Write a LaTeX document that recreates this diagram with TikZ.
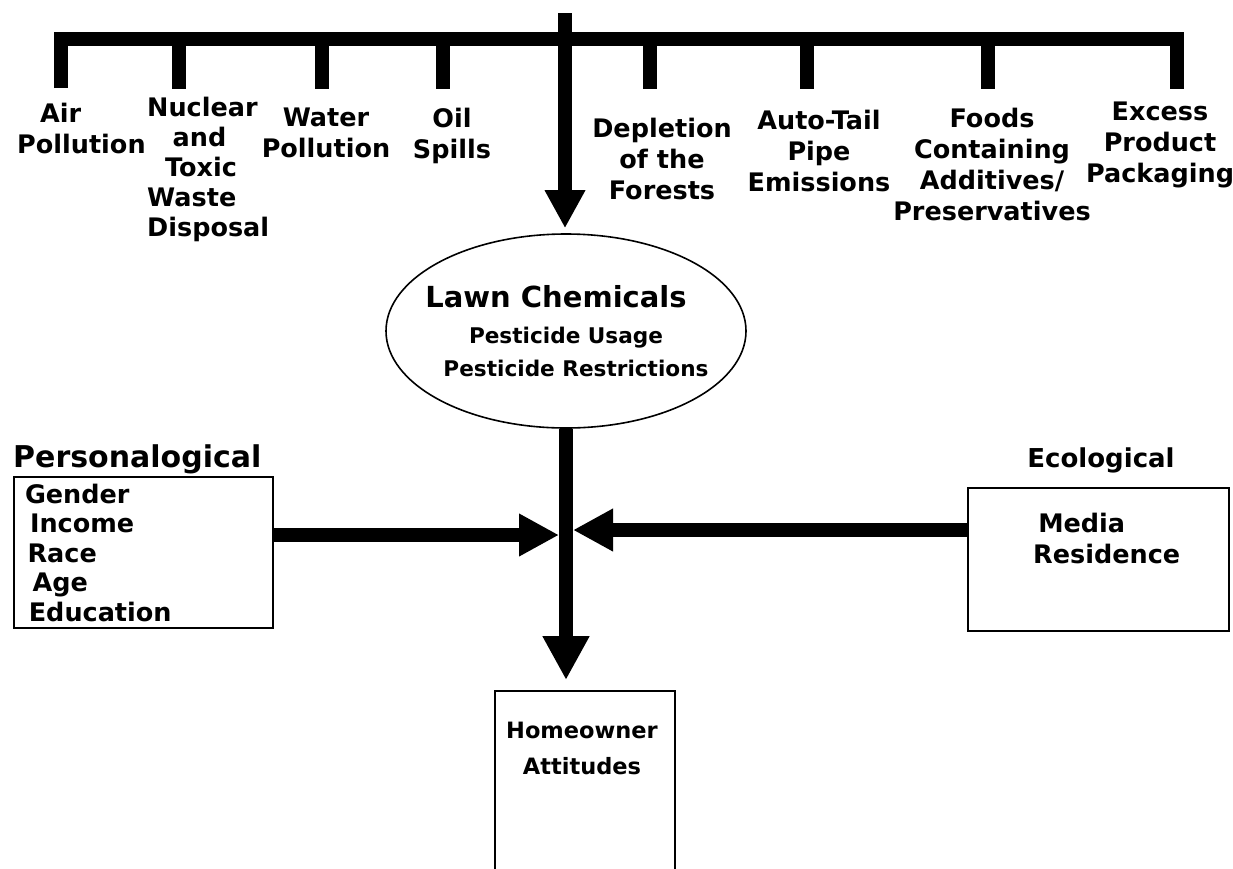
\documentclass[tikz,border=0pt]{standalone}
\usepackage{fontspec}
\setmainfont{DejaVu Sans}
\usetikzlibrary{arrows.meta}
\usetikzlibrary{shapes.geometric}
\tikzset{bar/.style={line width=14pt}}
\tikzset{fatarrow/.style={line width=14pt,-{Triangle[length=#1,width=#1]}}, fatarrow/.default=40pt}
\tikzset{l/.style={font=\bfseries\fontsize{25.5}{31}\selectfont, inner sep=0pt, align=center, anchor=north}}
\tikzset{m/.style={font=\bfseries\fontsize{21.6}{26}\selectfont, inner sep=0pt, anchor=north}}
\tikzset{frame/.style={draw, line width=1.6pt, inner sep=0pt}}

\begin{document}
\begin{tikzpicture}[x=1pt,y=-1pt]
  \useasboundingbox (0,0) rectangle (1233,868);
  % the rail of concerns
  \draw[bar] (61,88) -- (61,39) -- (1177,39) -- (1177,89);
  \foreach \x in {179,322,443,650,807,988}
    \draw[bar] (\x,39) -- (\x,89);
  \node[l, anchor=north west, align=left] (air) at (17,103) {\hspace*{.9em}Air\\Pollution};
  \node[l, anchor=north west, align=left, font=\bfseries\fontsize{25.5}{30}\selectfont] (nuclear) at (147,97)
    {Nuclear\\\hspace*{1em}and\\\hspace*{.7em}Toxic\\Waste\\Disposal};
  \node[l] (water) at (326,108) {Water\\Pollution};
  \node[l] (oil) at (452,108) {Oil\\Spills};
  \node[l] (forests) at (662,118) {Depletion\\of the\\Forests};
  \node[l] (exhaust) at (819,110) {Auto-Tail\\Pipe\\Emissions};
  \node[l] (foods) at (992,108) {Foods\\Containing\\Additives/\\Preservatives};
  \node[l] (packaging) at (1160,102) {Excess\\Product\\Packaging};
  % lawn chemicals
  \node[frame, ellipse, minimum width=360pt, minimum height=194pt] (lawn) at (566,331) {};
  \node[m, font=\bfseries\fontsize{29}{29}\selectfont] (lawntitle) at (556,285) {Lawn Chemicals};
  \node[m] (usage) at (566,327) {Pesticide Usage};
  \node[m] (restrict) at (576,360) {Pesticide Restrictions};
  % personalogical
  \node[inner sep=0pt, anchor=north west, font=\bfseries\fontsize{30}{30}\selectfont] (personhead) at (13,444) {Personalogical};
  \node[frame, minimum width=259pt, minimum height=151pt, text width=237pt, align=left,
        font=\bfseries\fontsize{25.5}{29.5}\selectfont] (person) at (143.5,552.5)
    {Gender\\\hspace*{.2em}Income\\\hspace*{.1em}Race\\\hspace*{.3em}Age\\\hspace*{.15em}Education};
  % ecological
  \node[inner sep=0pt, anchor=north, font=\bfseries\fontsize{26}{26}\selectfont] (ecohead) at (1101,448) {Ecological};
  \node[frame, minimum width=261pt, minimum height=143pt] (eco) at (1098.5,559.5) {};
  \node[l, anchor=north west, align=left] (ecotext) at (1033,513) {\hspace*{.2em}Media\\Residence};
  % homeowner
  \node[frame, minimum width=180pt, minimum height=200pt, anchor=north] (home) at (585,690) {};
  \node[l, font=\bfseries\fontsize{22.5}{36}\selectfont] (hometext) at (582,722) {Homeowner\\Attitudes};
  % arrows
  \coordinate (feed) at (565,13);
  \coordinate (hubL) at (559,535);
  \coordinate (hubR) at (573,530);
  \draw[fatarrow=38pt, shorten >=5pt] (feed) -- (feed |- lawn.north);
  \draw[fatarrow=44pt, shorten >=10pt] (lawn.south) -- (lawn.south |- home.north);
  \draw[fatarrow] (person.east |- hubL) -- (hubL);
  \draw[fatarrow] (eco.west |- hubR) -- (hubR);
\end{tikzpicture}
\end{document}
